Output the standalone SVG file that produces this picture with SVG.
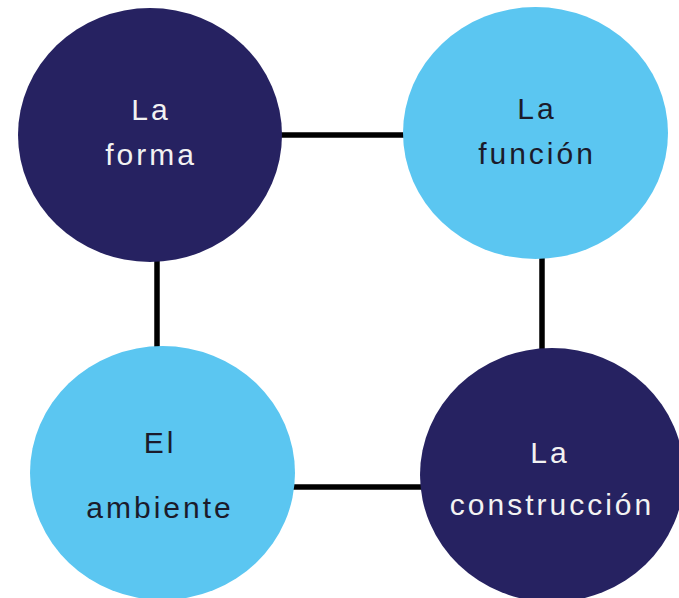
<svg xmlns="http://www.w3.org/2000/svg" width="679" height="598" viewBox="0 0 679 598">
<style>
.dark{fill:#262261}
.light{fill:#5BC6F1}
text{font-family:"Liberation Sans",Arial,sans-serif;font-size:30px;letter-spacing:3px;text-anchor:middle}
.tl{fill:#F2F2F2}
.td{fill:#1B1B2B}
.conn line{stroke:#000;stroke-width:5.5}
</style>
<rect width="679" height="598" fill="#fff"/>
<g class="conn" id="connectors">
<line x1="280" y1="135" x2="405" y2="135"/>
<line x1="157" y1="260" x2="157" y2="350"/>
<line x1="542" y1="257" x2="542" y2="350"/>
<line x1="293" y1="487" x2="422" y2="487"/>
</g>
<g id="la-forma">
<ellipse class="dark" cx="150" cy="135" rx="132" ry="127"/>
<text class="tl" x="151" y="120">La</text>
<text class="tl" x="151" y="165">forma</text>
</g>
<g id="la-funcion">
<ellipse class="light" cx="535.5" cy="133" rx="132.5" ry="126"/>
<text class="td" x="537" y="119">La</text>
<text class="td" x="537" y="164">función</text>
</g>
<g id="el-ambiente">
<ellipse class="light" cx="162.5" cy="473" rx="132.5" ry="127"/>
<text class="td" x="160" y="453">El</text>
<text class="td" x="160" y="518">ambiente</text>
</g>
<g id="la-construccion">
<ellipse class="dark" cx="552" cy="475" rx="132" ry="127"/>
<text class="tl" x="550" y="463">La</text>
<text class="tl" x="552" y="515">construcción</text>
</g>
</svg>
